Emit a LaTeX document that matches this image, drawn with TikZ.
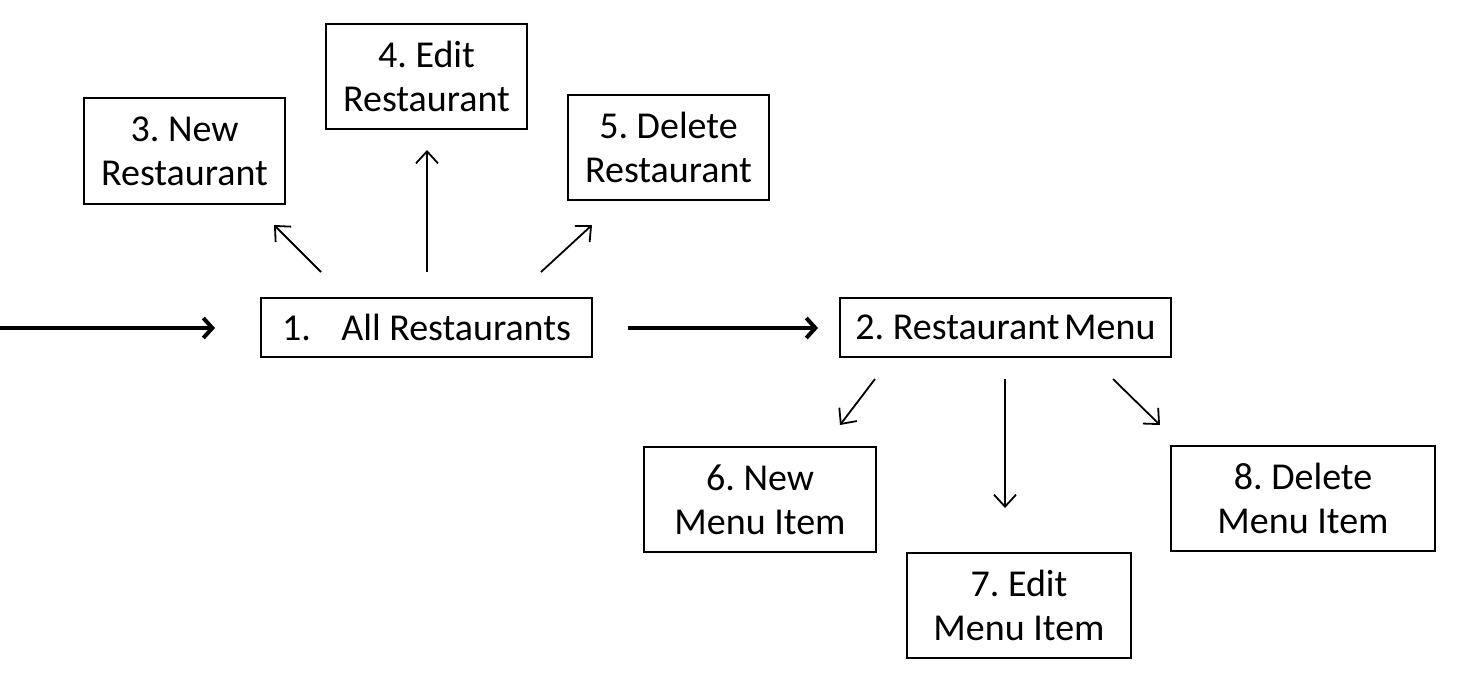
\documentclass[tikz,border=0pt]{standalone}
\usepackage{fontspec}
\setmainfont{Carlito}
\usetikzlibrary{arrows.meta}
\frenchspacing
\begin{document}
\begin{tikzpicture}[x=1pt,y=-1pt,
  box/.style={draw,line width=1.8pt,inner sep=0pt,align=center,font=\fontsize{38}{44}\selectfont},
  thin/.style={line width=1.8pt,-{Straight Barb[length=12pt,width=22pt,line width=1.8pt]}},
  thick/.style={line width=4pt,-{Straight Barb[length=9pt,width=20pt,line width=4pt]}}]
\useasboundingbox (0,0) rectangle (1472,677);
\node[box,minimum width=331pt,minimum height=59pt] (n1) at (426.5,327.5) {1.\hspace{0.8em}All Restaurants};
\node[box,minimum width=331pt,minimum height=59pt] (n2) at (1005.5,327.5) {2. Restaurant\hspace{0.12em}Menu};
\node[box,minimum width=201pt,minimum height=106pt] (n3) at (184.5,151) {3. New\\Restaurant};
\node[box,minimum width=201pt,minimum height=105pt] (n4) at (426.5,76.5) {4. Edit\\Restaurant};
\node[box,minimum width=201pt,minimum height=105pt] (n5) at (668.5,147.5) {5. Delete\\Restaurant};
\node[box,minimum width=232pt,minimum height=105pt] (n6) at (760,499.5) {6. New\\Menu Item};
\node[box,minimum width=224pt,minimum height=105pt] (n7) at (1019,605.5) {7. Edit\\Menu Item};
\node[box,minimum width=264pt,minimum height=105pt] (n8) at (1303,498.5) {8. Delete\\Menu Item};
\coordinate (s0) at (0,328); \coordinate (e0) at (215,328);
\coordinate (s1) at (628,328); \coordinate (e1) at (818,328);
\coordinate (a3) at (321,272); \coordinate (b3) at (274,225);
\coordinate (a4) at (427,272); \coordinate (b4) at (427,150);
\coordinate (a5) at (541,272); \coordinate (b5) at (592,225);
\coordinate (a6) at (875,379); \coordinate (b6) at (840,425);
\coordinate (a7) at (1005,379); \coordinate (b7) at (1005,508);
\coordinate (a8) at (1113,379); \coordinate (b8) at (1160,425);
\draw[thick] (s0) -- (e0);
\draw[thick] (s1) -- (e1);
\draw[thin] (a3) -- (b3);
\draw[thin] (a4) -- (b4);
\draw[thin] (a5) -- (b5);
\draw[thin] (a6) -- (b6);
\draw[thin] (a7) -- (b7);
\draw[thin] (a8) -- (b8);
\end{tikzpicture}
\end{document}
